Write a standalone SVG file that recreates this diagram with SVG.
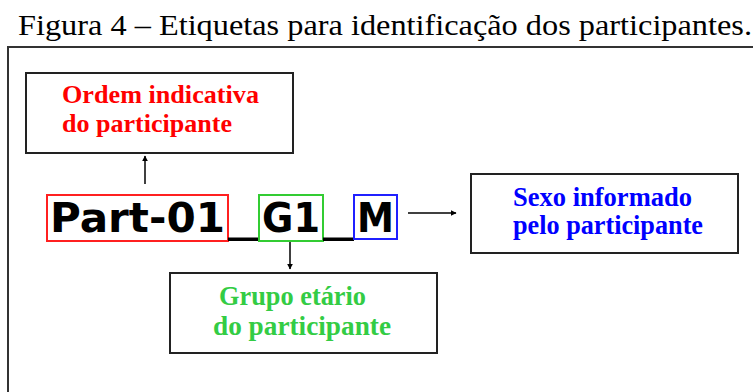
<svg xmlns="http://www.w3.org/2000/svg" width="753" height="392" viewBox="0 0 753 392">
<style>
.box{fill:#fff;stroke:#222;stroke-width:2}
.conn{stroke:#000;stroke-width:1.5;fill:none}
</style>
<defs>
<marker id="ah" viewBox="0 0 10 10" refX="9" refY="5" markerWidth="6" markerHeight="6" markerUnits="userSpaceOnUse" orient="auto">
<path d="M0,0 L10,5 L0,10 z" fill="#000"/>
</marker>
</defs>
<rect width="753" height="392" fill="#fff"/>
<text x="18" y="35" font-family="Liberation Serif" font-size="30" textLength="734" lengthAdjust="spacingAndGlyphs" fill="#000">Figura 4 – Etiquetas para identificação dos participantes.</text>
<path d="M8,392 L8,47 L753,47" fill="none" stroke="#333" stroke-width="2"/>

<g id="ordem" font-family="Liberation Serif" font-weight="bold" font-size="26" fill="#ff0000">
<rect class="box" x="26" y="73" width="267" height="80"/>
<text x="62" y="103" textLength="197" lengthAdjust="spacingAndGlyphs">Ordem indicativa</text>
<text x="62" y="132" textLength="170" lengthAdjust="spacingAndGlyphs">do participante</text>
</g>

<g id="codigo" font-family="DejaVu Sans" font-weight="bold" font-size="41">
<text x="50" y="232" textLength="175" lengthAdjust="spacingAndGlyphs">Part-01</text>
<rect x="47" y="195" width="181" height="46" fill="none" stroke="#ff2020" stroke-width="2"/>
<rect x="228" y="237.5" width="31" height="3.5" fill="#000"/>
<text x="262" y="232" textLength="58" lengthAdjust="spacingAndGlyphs">G1</text>
<rect x="259" y="195" width="64" height="46" fill="none" stroke="#33cc33" stroke-width="2"/>
<rect x="323" y="237.5" width="31" height="3.5" fill="#000"/>
<text x="357" y="232" textLength="37" lengthAdjust="spacingAndGlyphs">M</text>
<rect x="354" y="195" width="43" height="44" fill="none" stroke="#2020ff" stroke-width="2"/>
</g>

<g id="sexo" font-family="Liberation Serif" font-weight="bold" font-size="27" fill="#0000ff">
<rect class="box" x="471" y="174" width="267" height="79"/>
<text x="513" y="206" textLength="179" lengthAdjust="spacingAndGlyphs">Sexo informado</text>
<text x="513" y="234" textLength="190" lengthAdjust="spacingAndGlyphs">pelo participante</text>
</g>

<g id="grupo" font-family="Liberation Serif" font-weight="bold" font-size="27" fill="#33cc44">
<rect class="box" x="170" y="273" width="267" height="80"/>
<text x="219" y="305" textLength="147" lengthAdjust="spacingAndGlyphs">Grupo etário</text>
<text x="213" y="335" textLength="178" lengthAdjust="spacingAndGlyphs">do participante</text>
</g>

<g id="connectors">
<line class="conn" x1="145" y1="184" x2="145" y2="156" marker-end="url(#ah)"/>
<line class="conn" x1="408" y1="213" x2="456" y2="213" marker-end="url(#ah)"/>
<line class="conn" x1="290" y1="242" x2="290" y2="269" marker-end="url(#ah)"/>
</g>
</svg>
